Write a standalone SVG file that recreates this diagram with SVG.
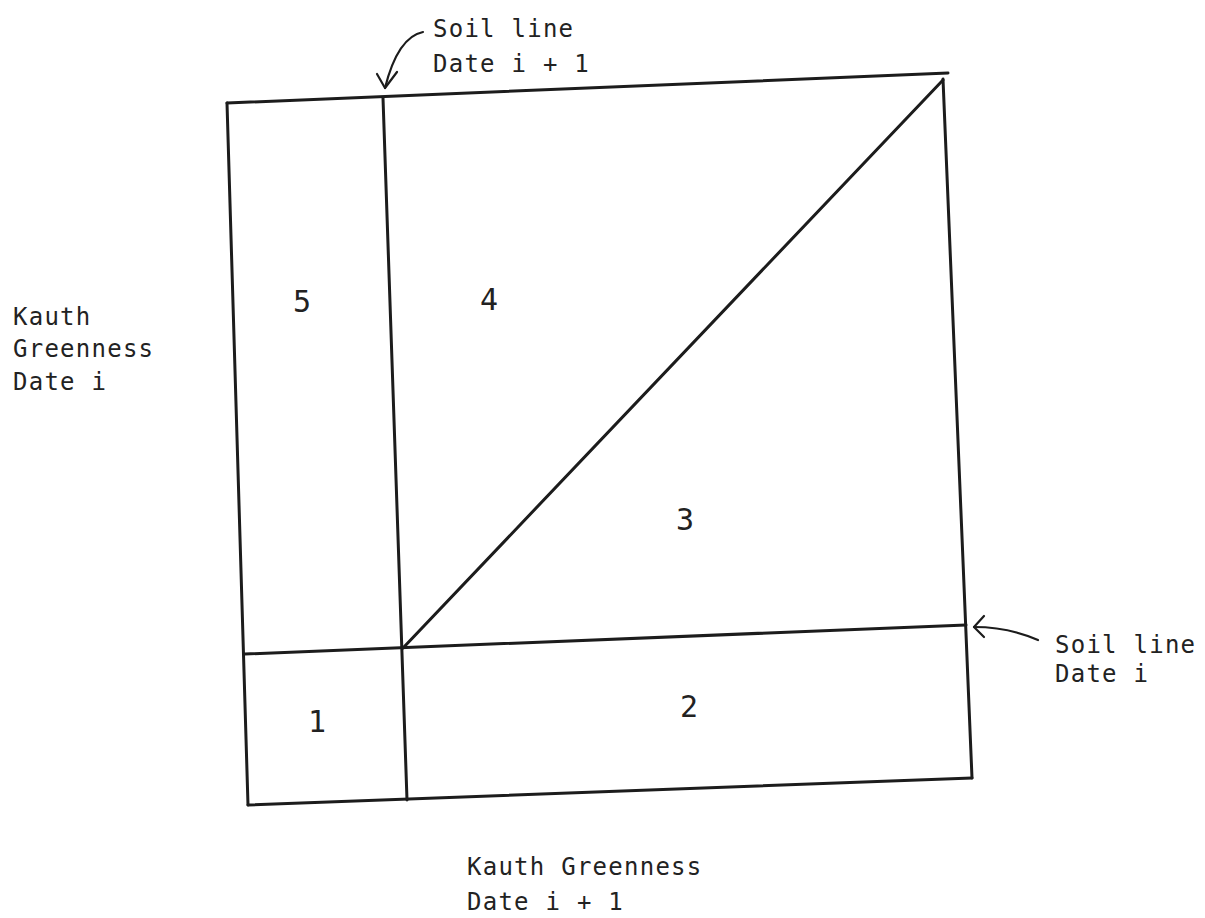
<svg xmlns="http://www.w3.org/2000/svg" width="1205" height="918" viewBox="0 0 1205 918">
<style>
.ln{fill:none;stroke:#1c1c1c;stroke-width:3;stroke-linecap:round;stroke-linejoin:round}
.ar{fill:none;stroke:#1c1c1c;stroke-width:2.2;stroke-linecap:round;stroke-linejoin:round}
.t{font-family:"DejaVu Sans Mono","Liberation Mono",monospace;font-size:24px;letter-spacing:1.25px;fill:#222}
.n{font-family:"DejaVu Sans Mono","Liberation Mono",monospace;font-size:30px;fill:#222;text-anchor:middle}
</style>
<rect width="1205" height="918" fill="#ffffff"/>
<g id="connectors">
<path class="ln" d="M227,103 L948,73"/>
<path class="ln" d="M227,103 L248,805"/>
<path class="ln" d="M248,805 L972,778"/>
<path class="ln" d="M943,79 L972,778"/>
<path class="ln" d="M383,98 L407,800"/>
<path class="ln" d="M245,654 L966,625"/>
<path class="ln" d="M403,648 L943,80"/>
<path class="ar" d="M423,32 C408,35 394,52 385,88"/>
<path class="ar" d="M377,74 L385,88 L397,72"/>
<path class="ar" d="M1038,640 C1020,632 1000,627 974,627"/>
<path class="ar" d="M984,616 L974,627 L984,637"/>
</g>
<g id="label-top">
<text class="t" x="433" y="37">Soil line</text>
<text class="t" x="433" y="72">Date i + 1</text>
</g>
<g id="label-right">
<text class="t" x="1055" y="653">Soil line</text>
<text class="t" x="1055" y="682">Date i</text>
</g>
<g id="label-left">
<text class="t" x="13" y="325">Kauth</text>
<text class="t" x="13" y="357">Greenness</text>
<text class="t" x="13" y="390">Date i</text>
</g>
<g id="label-bottom">
<text class="t" x="467" y="875">Kauth Greenness</text>
<text class="t" x="467" y="910">Date i + 1</text>
</g>
<g id="region-1"><text class="n" x="317" y="732">1</text></g>
<g id="region-2"><text class="n" x="689" y="717">2</text></g>
<g id="region-3"><text class="n" x="685" y="530">3</text></g>
<g id="region-4"><text class="n" x="489" y="310">4</text></g>
<g id="region-5"><text class="n" x="302" y="312">5</text></g>
</svg>
